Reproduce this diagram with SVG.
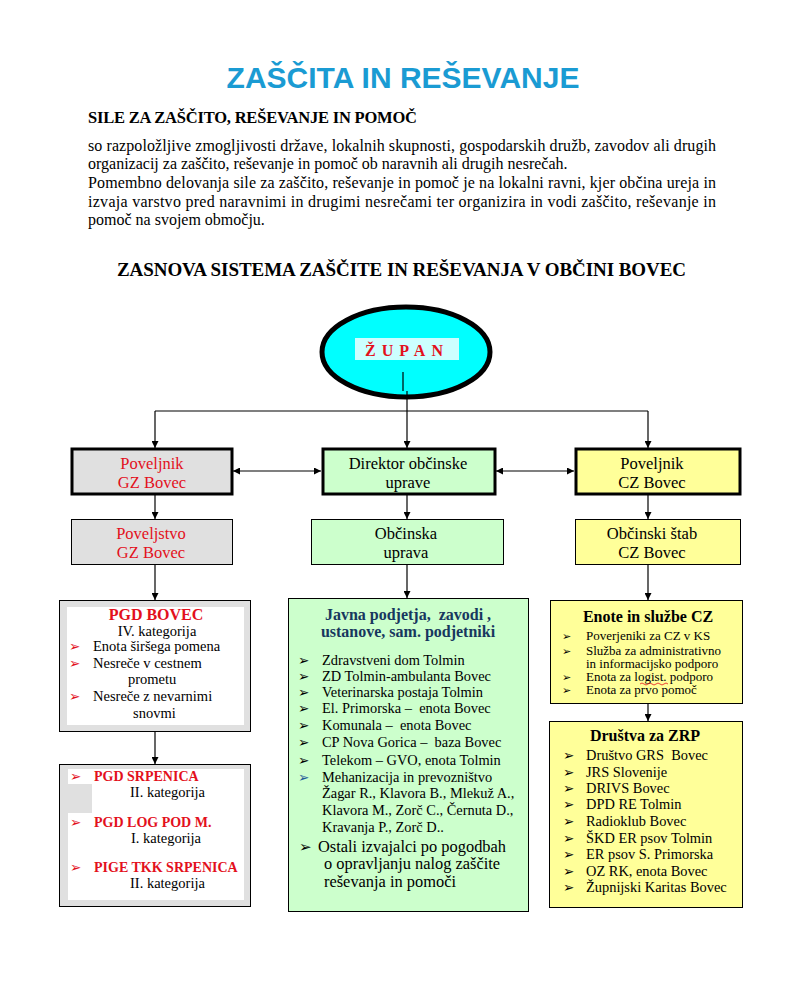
<svg xmlns="http://www.w3.org/2000/svg" width="804" height="1008" viewBox="0 0 804 1008">
<style>
text{font-family:"Liberation Serif","Times New Roman",serif;fill:#000}
.title{font-family:"Liberation Sans",Arial,sans-serif;font-weight:bold;font-size:30px;fill:#1a9bd3}
.h{font-weight:bold;font-size:16.5px}
.p{font-size:16px}
.sub{font-weight:bold;font-size:19px}
.red{fill:#e3101c}
.bx{font-size:16.5px}
.b{font-family:"DejaVu Sans",sans-serif;font-size:13.5px}
.bs{font-family:"DejaVu Sans",sans-serif;font-size:11px}
.l1{font-size:14.5px}
.l2{font-size:14.4px}
.l3{font-size:13px}
.hb{font-weight:bold;font-size:16px}
.navy{fill:#17375e}
.conn line,.conn path{stroke:#000;stroke-width:1.2;fill:none}
</style>
<defs>
<marker id="ah" viewBox="0 0 10 10" refX="10" refY="5" markerWidth="7" markerHeight="7" orient="auto-start-reverse" markerUnits="userSpaceOnUse">
<path d="M0,0 L10,5 L0,10 z" fill="#000"/>
</marker>
</defs>
<rect width="804" height="1008" fill="#fff"/>

<text class="title" x="403" y="88" text-anchor="middle">ZAŠČITA IN REŠEVANJE</text>
<text class="h" x="88" y="123" textLength="329">SILE ZA ZAŠČITO, REŠEVANJE IN POMOČ</text>
<text class="p" x="88" y="151" textLength="628">so razpoložljive zmogljivosti države, lokalnih skupnosti, gospodarskih družb, zavodov ali drugih</text>
<text class="p" x="88" y="169">organizacij za zaščito, reševanje in pomoč ob naravnih ali drugih nesrečah.</text>
<text class="p" x="88" y="188" textLength="628">Pomembno delovanja sile za zaščito, reševanje in pomoč je na lokalni ravni, kjer občina ureja in</text>
<text class="p" x="88" y="207" textLength="628">izvaja varstvo pred naravnimi in drugimi nesrečami ter organizira in vodi zaščito, reševanje in</text>
<text class="p" x="88" y="225">pomoč na svojem območju.</text>

<text class="sub" x="117" y="276" textLength="569">ZASNOVA SISTEMA ZAŠČITE IN REŠEVANJA V OBČINI BOVEC</text>

<g id="zupan">
<ellipse cx="406" cy="352" rx="84" ry="45" fill="#00ffff" stroke="#000" stroke-width="5"/>
<rect x="355" y="338" width="104" height="22" fill="#ccffff"/>
<text x="407" y="356" text-anchor="middle" class="red" style="font-weight:bold;font-size:16px;letter-spacing:6px">ŽUPAN</text>
</g>

<g class="conn" id="connectors">
<line x1="403" y1="372" x2="403" y2="391"/>
<line x1="407" y1="391" x2="407" y2="448" marker-end="url(#ah)"/>
<line x1="155" y1="411" x2="648" y2="411"/>
<line x1="155" y1="411" x2="155" y2="448" marker-end="url(#ah)"/>
<line x1="648" y1="411" x2="648" y2="448" marker-end="url(#ah)"/>
<line x1="233" y1="471" x2="321" y2="471" marker-start="url(#ah)" marker-end="url(#ah)"/>
<line x1="496" y1="471" x2="574" y2="471" marker-start="url(#ah)" marker-end="url(#ah)"/>
<line x1="155" y1="494" x2="155" y2="519" marker-end="url(#ah)"/>
<line x1="407" y1="494" x2="407" y2="519" marker-end="url(#ah)"/>
<line x1="648" y1="494" x2="648" y2="519" marker-end="url(#ah)"/>
<line x1="155" y1="565" x2="155" y2="600" marker-end="url(#ah)"/>
<line x1="407" y1="565" x2="407" y2="598" marker-end="url(#ah)"/>
<line x1="648" y1="565" x2="648" y2="600" marker-end="url(#ah)"/>
<line x1="155" y1="732" x2="155" y2="764" marker-end="url(#ah)"/>
<line x1="648" y1="703" x2="648" y2="721" marker-end="url(#ah)"/>
</g>

<g id="poveljnik-gz">
<rect x="72" y="449" width="160" height="45" fill="#e0e0e0" stroke="#000" stroke-width="3"/>
<text class="bx red" x="152" y="469" text-anchor="middle">Poveljnik</text>
<text class="bx red" x="152" y="488" text-anchor="middle">GZ Bovec</text>
</g>
<g id="direktor">
<rect x="323" y="449" width="172" height="45" fill="#ccffcc" stroke="#000" stroke-width="3"/>
<text class="bx" x="408" y="469" text-anchor="middle">Direktor občinske</text>
<text class="bx" x="408" y="488" text-anchor="middle">uprave</text>
</g>
<g id="poveljnik-cz">
<rect x="576" y="449" width="164" height="45" fill="#ffff99" stroke="#000" stroke-width="3"/>
<text class="bx" x="652" y="469" text-anchor="middle">Poveljnik</text>
<text class="bx" x="652" y="488" text-anchor="middle">CZ Bovec</text>
</g>

<g id="poveljstvo-gz">
<rect x="71.5" y="519.5" width="161" height="45" fill="#e0e0e0" stroke="#000" stroke-width="1"/>
<text class="bx red" x="151" y="539" text-anchor="middle">Poveljstvo</text>
<text class="bx red" x="151" y="558" text-anchor="middle">GZ Bovec</text>
</g>
<g id="obcinska-uprava">
<rect x="311.5" y="519.5" width="192" height="45" fill="#ccffcc" stroke="#000" stroke-width="1"/>
<text class="bx" x="406" y="539" text-anchor="middle">Občinska</text>
<text class="bx" x="406" y="558" text-anchor="middle">uprava</text>
</g>
<g id="obcinski-stab">
<rect x="575.5" y="519.5" width="165" height="45" fill="#ffff99" stroke="#000" stroke-width="1"/>
<text class="bx" x="652" y="539" text-anchor="middle">Občinski štab</text>
<text class="bx" x="652" y="558" text-anchor="middle">CZ Bovec</text>
</g>

<g id="pgd-bovec">
<rect x="59.5" y="600.5" width="191" height="131" fill="#e0e0e0" stroke="#000" stroke-width="1"/>
<rect x="67" y="607" width="177" height="118" fill="#fff"/>
<text class="red" x="156" y="620" text-anchor="middle" style="font-weight:bold;font-size:16px">PGD BOVEC</text>
<text class="l1" x="157" y="636" text-anchor="middle">IV. kategorija</text>
<text class="b red" x="69" y="651">➢</text>
<text class="l1" x="93" y="651">Enota širšega pomena</text>
<text class="b red" x="69" y="668">➢</text>
<text class="l1" x="93" y="668">Nesreče v cestnem</text>
<text class="l1" x="128" y="684">prometu</text>
<text class="b red" x="69" y="701">➢</text>
<text class="l1" x="93" y="701">Nesreče z nevarnimi</text>
<text class="l1" x="133" y="718">snovmi</text>
</g>

<g id="pgd-others">
<rect x="59.5" y="764.5" width="191" height="142" fill="#e0e0e0" stroke="#000" stroke-width="1"/>
<rect x="68" y="769" width="176" height="131" fill="#fff"/>
<rect x="68" y="784" width="24" height="29" fill="#e0e0e0"/>
<text class="b red" x="70" y="781">➢</text>
<text class="red" x="94" y="781" style="font-weight:bold;font-size:14px">PGD SRPENICA</text>
<text class="l1" x="130" y="797">II. kategorija</text>
<text class="b red" x="70" y="827">➢</text>
<text class="red" x="94" y="827" style="font-weight:bold;font-size:14px">PGD LOG POD M.</text>
<text class="l1" x="131" y="843">I. kategorija</text>
<text class="b red" x="70" y="872">➢</text>
<text class="red" x="94" y="872" style="font-weight:bold;font-size:14px">PIGE TKK SRPENICA</text>
<text class="l1" x="130" y="888">II. kategorija</text>
</g>

<g id="javna-podjetja">
<rect x="288.5" y="598.5" width="240" height="313" fill="#ccffcc" stroke="#000" stroke-width="1"/>
<text class="hb navy" x="408" y="620" text-anchor="middle" xml:space="preserve">Javna podjetja,  zavodi ,</text>
<text class="hb navy" x="408" y="637" text-anchor="middle">ustanove, sam. podjetniki</text>
<text class="b" x="298" y="665">➢</text><text class="l2" x="322" y="665">Zdravstveni dom Tolmin</text>
<text class="b" x="298" y="681">➢</text><text class="l2" x="322" y="681">ZD Tolmin-ambulanta Bovec</text>
<text class="b" x="298" y="697">➢</text><text class="l2" x="322" y="697">Veterinarska postaja Tolmin</text>
<text class="b" x="298" y="713">➢</text><text class="l2" x="322" y="713" xml:space="preserve">El. Primorska –  enota Bovec</text>
<text class="b" x="298" y="730">➢</text><text class="l2" x="322" y="730" xml:space="preserve">Komunala –  enota Bovec</text>
<text class="b" x="298" y="747">➢</text><text class="l2" x="322" y="747" xml:space="preserve">CP Nova Gorica –  baza Bovec</text>
<text class="b" x="298" y="765">➢</text><text class="l2" x="322" y="765">Telekom – GVO, enota Tolmin</text>
<text class="b" x="298" y="782" style="fill:#1f5c99">➢</text><text class="l2" x="322" y="782">Mehanizacija in prevozništvo</text>
<text class="l2" x="322" y="798">Žagar R., Klavora B., Mlekuž A.,</text>
<text class="l2" x="322" y="815">Klavora M., Zorč C., Černuta D.,</text>
<text class="l2" x="322" y="832">Kravanja P., Zorč D..</text>
<text class="b" x="299" y="852" style="font-size:15px">➢</text><text x="318" y="852" style="font-size:16.4px">Ostali izvajalci po pogodbah</text>
<text x="324" y="869" style="font-size:16.4px">o opravljanju nalog zaščite</text>
<text x="324" y="887" style="font-size:16.4px">reševanja in pomoči</text>
</g>

<g id="enote-cz">
<rect x="550.5" y="600.5" width="192" height="103" fill="#ffff99" stroke="#000" stroke-width="1"/>
<text class="hb" x="648" y="622" text-anchor="middle">Enote in službe CZ</text>
<text class="bs" x="562" y="640">➢</text><text class="l3" x="586" y="640">Poverjeniki za CZ v KS</text>
<text class="bs" x="562" y="655">➢</text><text class="l3" x="586" y="655">Služba za administrativno</text>
<text class="l3" x="586" y="668">in informacijsko podporo</text>
<text class="bs" x="562" y="681">➢</text><text class="l3" x="586" y="681">Enota za logist. podporo</text>
<path d="M640,684 q2,-2 4,0 t4,0 t4,0 t4,0 t4,0 t4,0 t4,0" stroke="#e3101c" stroke-width="0.8" fill="none"/>
<text class="bs" x="562" y="694">➢</text><text class="l3" x="586" y="694">Enota za prvo pomoč</text>
</g>

<g id="drustva-zrp">
<rect x="549.5" y="721.5" width="193" height="186" fill="#ffff99" stroke="#000" stroke-width="1"/>
<text class="hb" x="645" y="741" text-anchor="middle">Društva za ZRP</text>
<text class="b" x="563" y="760">➢</text><text class="l2" x="586" y="760" xml:space="preserve">Društvo GRS  Bovec</text>
<text class="b" x="563" y="777">➢</text><text class="l2" x="586" y="777">JRS Slovenije</text>
<text class="b" x="563" y="793">➢</text><text class="l2" x="586" y="793">DRIVS Bovec</text>
<text class="b" x="563" y="809">➢</text><text class="l2" x="586" y="809">DPD RE Tolmin</text>
<text class="b" x="563" y="826">➢</text><text class="l2" x="586" y="826">Radioklub Bovec</text>
<text class="b" x="563" y="843">➢</text><text class="l2" x="586" y="843">ŠKD ER psov Tolmin</text>
<text class="b" x="563" y="859">➢</text><text class="l2" x="586" y="859">ER psov S. Primorska</text>
<text class="b" x="563" y="876">➢</text><text class="l2" x="586" y="876">OZ RK, enota Bovec</text>
<text class="b" x="563" y="892">➢</text><text class="l2" x="586" y="892">Župnijski Karitas Bovec</text>
</g>
</svg>
